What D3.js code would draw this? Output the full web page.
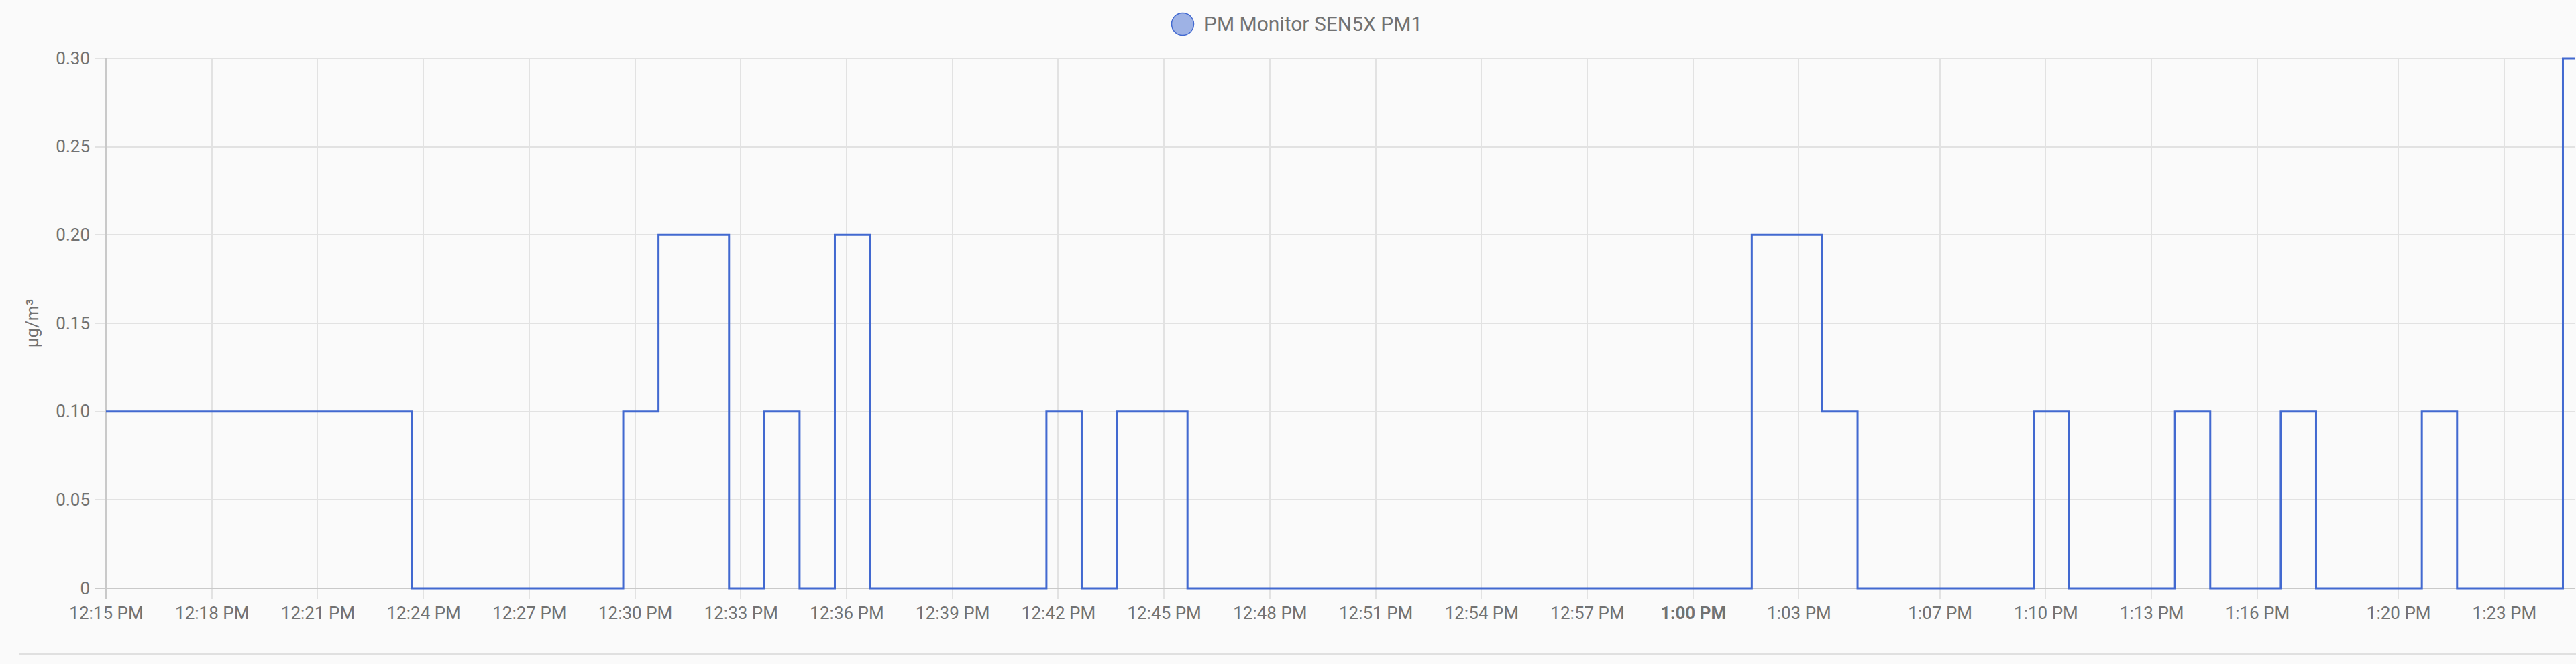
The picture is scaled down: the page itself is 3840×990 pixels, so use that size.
<!DOCTYPE html>
<html>
<head>
<meta charset="utf-8">
<script src="https://cdn.jsdelivr.net/npm/d3@7"></script>
<style>
html,body{margin:0;padding:0;background:#fafafa;}
svg{display:block;font-family:Roboto,"Noto Sans",sans-serif;}
</style>
</head>
<body>
<svg id="chart" width="3840" height="990"></svg>
<script>
// ---- data ----
const seriesName = "PM Monitor SEN5X PM1";
const unitLabel = "µg/m³";
const stateTimes = ["12:15:00","12:23:40","12:29:40","12:30:40","12:32:40","12:33:40","12:34:40","12:35:40","12:36:40","12:41:40","12:42:40","12:43:40","12:45:40","13:01:40","13:03:40","13:04:40","13:09:40","13:10:40","13:13:40","13:14:40","13:16:40","13:17:40","13:20:40","13:21:40","13:24:40","13:25:00"];
const stateValues = [0.1,0,0.1,0.2,0,0.1,0,0.2,0,0.1,0,0.1,0,0.2,0.1,0,0.1,0,0.1,0,0.1,0,0.1,0,0.3,0.3];
const xTickTimes = ["12:15","12:18","12:21","12:24","12:27","12:30","12:33","12:36","12:39","12:42","12:45","12:48","12:51","12:54","12:57","13:00","13:03","13:07","13:10","13:13","13:16","13:20","13:23"];
const majorTick = "13:00";
const yTickValues = [0,0.05,0.10,0.15,0.20,0.25,0.30];
const yTickLabels = ["0","0.05","0.10","0.15","0.20","0.25","0.30"];
const domainStart = "12:15:00";
const domainEnd = "13:25:00";

(function(){
const day = "2024-01-01T";
const parseT = s => new Date(day + (s.length === 5 ? s + ":00" : s));

const svg = d3.select("#chart");
const W = 3840, H = 990;
const pl = 158, pr = 3838, pt = 87, pb = 877;
const textColor = "#727272";
const gridColor = "#e2e2e2";
const axisColor = "#c9c9c9";
const lineColor = "#4269d0";

svg.append("rect").attr("width", W).attr("height", H).attr("fill", "#fafafa");

const x = d3.scaleTime().domain([parseT(domainStart), parseT(domainEnd)]).range([pl, pr]);
const y = d3.scaleLinear().domain([0, 0.3]).range([pb, pt]);

const xTicks = xTickTimes.map(parseT);

// vertical grid
svg.append("g").selectAll("line").data(xTicks).join("line")
  .attr("x1", d => Math.round(x(d))).attr("x2", d => Math.round(x(d)))
  .attr("y1", pt).attr("y2", pb + 16)
  .attr("stroke", (d,i) => i === 0 ? axisColor : gridColor).attr("stroke-width", 2);

// horizontal grid
svg.append("g").selectAll("line").data(yTickValues).join("line")
  .attr("x1", pl - 16).attr("x2", pr)
  .attr("y1", d => Math.round(y(d))).attr("y2", d => Math.round(y(d)))
  .attr("stroke", d => d === 0 ? axisColor : gridColor).attr("stroke-width", 2);

// y axis line
svg.append("line").attr("x1", pl).attr("x2", pl).attr("y1", pt).attr("y2", pb + 16)
  .attr("stroke", axisColor).attr("stroke-width", 2);

// x axis labels via d3 axis
const fmt = d3.timeFormat("%-I:%M %p");
const xAxis = d3.axisBottom(x).tickValues(xTicks).tickSize(0).tickPadding(0).tickFormat(fmt);
const gx = svg.append("g").attr("transform", `translate(0,${pb})`).call(xAxis);
gx.select(".domain").remove();
gx.selectAll("text")
  .attr("y", 46).attr("dy", null)
  .attr("fill", textColor)
  .style("font-size", "26px")
  .style("font-family", "Roboto")
  .style("font-weight", (d) => d3.timeFormat("%H:%M")(d) === majorTick ? "bold" : "normal");

// y axis labels via d3 axis
const yAxis = d3.axisLeft(y).tickValues(yTickValues).tickSize(0).tickPadding(0)
  .tickFormat((d,i) => yTickLabels[i]);
const gy = svg.append("g").attr("transform", `translate(134,0)`).call(yAxis);
gy.select(".domain").remove();
gy.selectAll("text")
  .attr("x", 0).attr("dy", "0.32em")
  .attr("fill", textColor)
  .style("font-size", "26px")
  .style("font-family", "Roboto");

// y title
svg.append("text")
  .attr("transform", `translate(57,${(pt+pb)/2}) rotate(-90)`)
  .attr("text-anchor", "middle")
  .attr("fill", textColor)
  .style("font-size", "26px")
  .text(unitLabel);

// clip path
svg.append("clipPath").attr("id", "clip").append("rect")
  .attr("x", pl).attr("y", pt - 2).attr("width", pr - pl + 2).attr("height", pb - pt + 4);

const pts = stateTimes.map((t, i) => ({ t: parseT(t), v: stateValues[i] }));
const line = d3.line().x(d => x(d.t)).y(d => y(d.v)).curve(d3.curveStepAfter);
svg.append("path").datum(pts)
  .attr("clip-path", "url(#clip)")
  .attr("d", line)
  .attr("fill", "none")
  .attr("stroke", lineColor)
  .attr("stroke-width", 3)
  .attr("stroke-linejoin", "miter");

// legend
const lg = svg.append("g");
lg.append("circle").attr("cx", 1763).attr("cy", 36).attr("r", 16.5)
  .attr("fill", "rgba(66,105,208,0.5)").attr("stroke", lineColor).attr("stroke-width", 1.5);
lg.append("text").attr("x", 1795).attr("y", 45.5).attr("fill", textColor)
  .style("font-size", "30px").text(seriesName);

// bottom separator
svg.append("line").attr("x1", 28).attr("x2", W).attr("y1", 975).attr("y2", 975)
  .attr("stroke", "#e0e0e0").attr("stroke-width", 3);
})();
</script>
</body>
</html>
